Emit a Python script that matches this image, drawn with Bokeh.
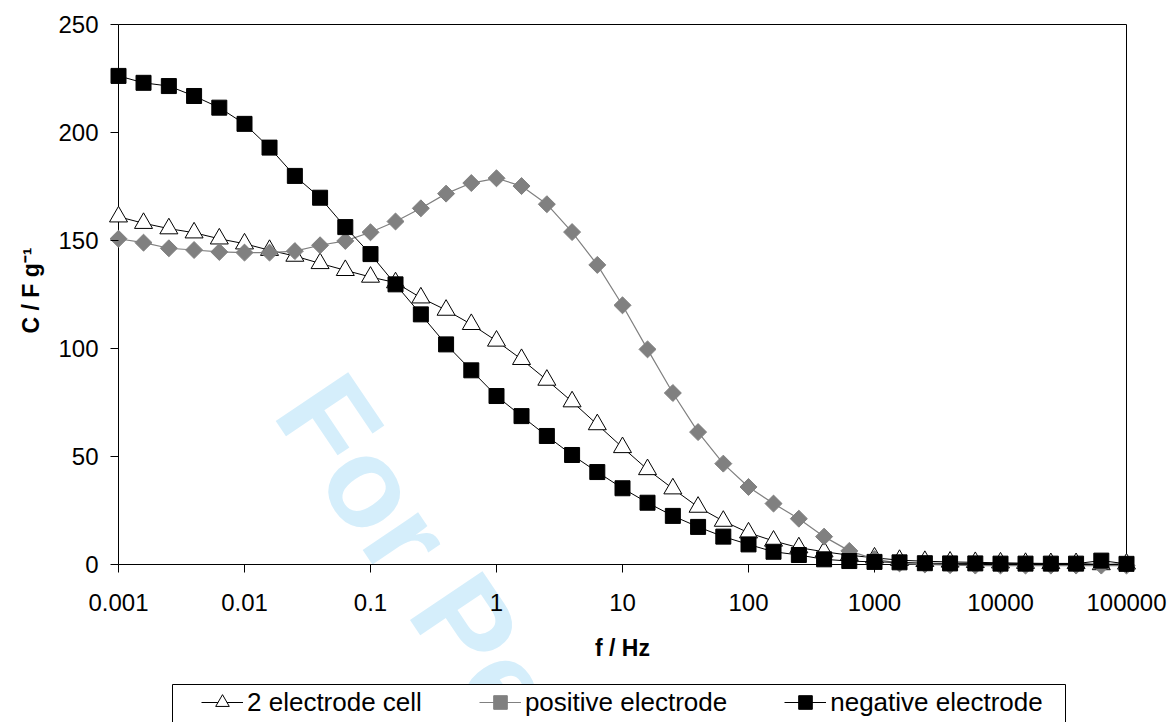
import math
from bokeh.plotting import figure
from bokeh.models import (Range1d, FixedTicker, Legend, LegendItem, Label,
                          BoxAnnotation)
from bokeh.embed import file_html
from bokeh.resources import INLINE

# ---------------- data ----------------
freq = [0.001, 0.00158, 0.00251, 0.00398, 0.00631,
        0.01, 0.0158, 0.0251, 0.0398, 0.0631,
        0.1, 0.158, 0.251, 0.398, 0.631,
        1, 1.58, 2.51, 3.98, 6.31,
        10, 15.8, 25.1, 39.8, 63.1,
        100, 158, 251, 398, 631,
        1000, 1580, 2510, 3980, 6310,
        10000, 15800, 25100, 39800, 63100,
        100000]

cell_2 = [161.0, 158.0, 155.5, 153.6, 150.8, 148.5, 145.5, 142.8, 139.4, 136.2,
          133.1, 130.5, 123.5, 117.8, 111.2, 103.5, 95.0, 85.4, 75.4, 64.8,
          54.2, 44.0, 35.1, 26.6, 20.1, 14.7, 10.9, 7.8, 5.9, 4.3,
          3.1, 2.0, 1.5, 1.2, 1.0, 0.8, 0.6, 0.5, 0.5, 0.0, 0.3]

positive = [150.8, 149.0, 146.4, 145.6, 144.7, 144.4, 144.4, 145.1, 147.8, 149.8,
            153.8, 158.8, 164.9, 171.7, 176.6, 178.8, 175.2, 166.8, 153.9, 138.7,
            120.0, 99.6, 79.4, 61.3, 46.7, 35.9, 28.2, 21.2, 12.9, 6.3,
            2.5, 0.5, 0.0, -0.3, -0.5, -0.5, -0.5, -0.5, -0.5, -0.5, -0.5]

negative = [226.2, 223.0, 221.5, 216.9, 211.5, 204.0, 193.0, 179.9, 169.8, 156.2,
            143.7, 129.7, 115.8, 101.9, 89.9, 78.0, 68.7, 59.5, 50.7, 42.8,
            35.3, 28.6, 22.5, 17.4, 12.9, 9.3, 5.9, 4.4, 2.4, 1.6,
            1.2, 1.0, 0.6, 0.5, 0.5, 0.4, 0.4, 0.4, 0.4, 1.8, 0.3]

series_names = ["2 electrode cell", "positive electrode", "negative electrode"]

x_ticks = [0.001, 0.01, 0.1, 1.0, 10.0, 100.0, 1000.0, 10000.0, 100000.0]
x_tick_labels = ["0.001", "0.01", "0.1", "1", "10", "100", "1000", "10000", "100000"]
y_ticks = [0, 50, 100, 150, 200, 250]

x_title = "f / Hz"
y_title = "C / F g\u207b\u00b9"
watermark = "For Peer Review"

# ---------------- layout / style ----------------
FONT = "Liberation Sans"
W, H = 1168, 722
BOX_L, BOX_R, BOX_T, BOX_B = 118, 1126, 24, 564    # drawn plot box in canvas px
PX_PER_DEC = (BOX_R - BOX_L) / 8.0
PX_PER_UNIT = (BOX_B - BOX_T) / 250.0
x_lo, x_hi = x_ticks[0], x_ticks[-1]
y_lo, y_hi = y_ticks[0], y_ticks[-1]


def px_to_x(px):
    return 10 ** (math.log10(x_lo) + (px - BOX_L) / PX_PER_DEC)


def px_to_y(py):
    return y_lo + (BOX_B - py) / PX_PER_UNIT


# the frame covers the whole canvas; axes are pinned to the box edges
xr = Range1d(px_to_x(0), px_to_x(W))
yr = Range1d(px_to_y(H), px_to_y(0))

p = figure(width=W, height=H, x_axis_type="log", x_range=xr, y_range=yr,
           output_backend="svg", toolbar_location=None,
           min_border_left=0, min_border_right=0,
           min_border_top=0, min_border_bottom=0)

p.background_fill_color = "white"
p.border_fill_color = "white"
p.outline_line_color = None
p.xgrid.visible = False
p.ygrid.visible = False

for ax in (p.xaxis[0], p.yaxis[0]):
    ax.axis_line_color = None
    ax.major_tick_line_color = "black"
    ax.major_tick_line_width = 1
    ax.major_tick_in = 0
    ax.major_tick_out = 8
    ax.minor_tick_line_color = None
    ax.minor_tick_in = 0
    ax.minor_tick_out = 0
    ax.major_label_text_font = FONT
    ax.major_label_text_font_size = "24px"
    ax.major_label_text_color = "black"
    ax.axis_label = None

xa = p.xaxis[0]
xa.fixed_location = y_lo
xa.bounds = (x_lo, x_hi)
xa.ticker = FixedTicker(ticks=x_ticks)
xa.major_label_overrides = {float(t): s for t, s in zip(x_ticks, x_tick_labels)}
xa.major_label_standoff = 21

ya = p.yaxis[0]
ya.fixed_location = x_lo
ya.bounds = (y_lo, y_hi)
ya.ticker = FixedTicker(ticks=y_ticks)
ya.major_label_standoff = 12

# watermark (behind everything)
p.add_layout(Label(x=px_to_x(307), y=px_to_y(389), text=watermark, angle=-56,
                   angle_units="deg", text_font=FONT, text_font_style="bold",
                   text_font_size="127px", text_color="#D5EEFB", text_align="left",
                   text_baseline="alphabetic", level="underlay"))

# plot box
p.add_layout(BoxAnnotation(left=x_lo, right=x_hi, bottom=y_lo, top=y_hi,
                           fill_alpha=0, line_color="black", line_alpha=1,
                           line_width=1, level="underlay"))

# axis titles
p.add_layout(Label(x=px_to_x((BOX_L + BOX_R) / 2), y=px_to_y(647), text=x_title,
                   text_font=FONT, text_font_style="bold", text_font_size="23px",
                   text_color="black", text_align="center", text_baseline="middle"))
p.add_layout(Label(x=px_to_x(30), y=px_to_y(290), text=y_title, angle=90,
                   angle_units="deg", text_font=FONT, text_font_style="bold",
                   text_font_size="23px", text_color="black", text_align="center",
                   text_baseline="middle"))

# series
l1 = p.line(freq, cell_2, line_color="black", line_width=1)
m1 = p.scatter(freq, cell_2, marker="triangle", size=18, fill_color="white",
               line_color="black", line_width=1)
l2 = p.line(freq, positive, line_color="#808080", line_width=1.2)
m2 = p.scatter(freq, positive, marker="square", angle=math.pi / 4, size=12,
               fill_color="#808080", line_color="#808080", line_width=1)
l3 = p.line(freq, negative, line_color="black", line_width=1)
m3 = p.scatter(freq, negative, marker="square", size=15, fill_color="black",
               line_color="black", line_width=1)

# legend frame (white box with border)
p.add_layout(BoxAnnotation(left=172, right=1065, top=684, bottom=H + 20,
                           left_units="canvas", right_units="canvas",
                           top_units="canvas", bottom_units="canvas",
                           fill_color="white", fill_alpha=1,
                           line_color="black", line_alpha=1, line_width=1))

legend = Legend(items=[LegendItem(label=series_names[0], renderers=[l1, m1]),
                       LegendItem(label=series_names[1], renderers=[l2, m2]),
                       LegendItem(label=series_names[2], renderers=[l3, m3])],
                orientation="horizontal", location=(201, 3),
                padding=4, spacing=57, margin=0,
                glyph_width=42, glyph_height=34, label_height=34, label_standoff=4,
                label_text_font=FONT, label_text_font_size="26px",
                label_text_color="black",
                border_line_color=None,
                background_fill_color="white", background_fill_alpha=0)
p.add_layout(legend)

open("out.html", "w").write(file_html(p, INLINE))
